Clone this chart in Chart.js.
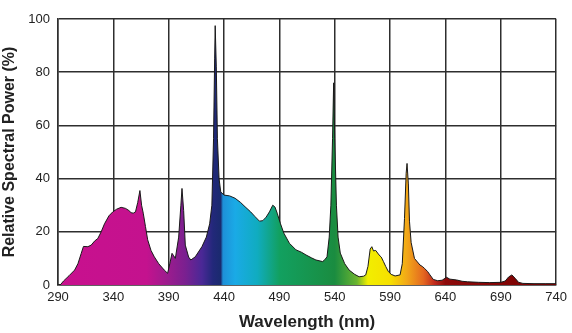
<!DOCTYPE html>
<html>
<head>
<meta charset="utf-8">
<script src="https://cdn.jsdelivr.net/npm/chart.js@4"></script>
<style>
  html, body { margin: 0; padding: 0; background: #fff; }
  #wrap { width: 572px; height: 333px; }
</style>
</head>
<body>
<div id="wrap"><canvas id="spdChart"></canvas></div>
<script>
// data
var wavelengths = [290, 292, 295, 300, 305, 308, 311, 313, 317, 320, 323, 326, 329, 332, 336, 339.5, 343, 347, 351, 354, 356, 358, 360, 362, 364, 365.5, 367, 369, 371, 374, 377, 381, 386, 389, 391, 393, 394.5, 396, 399, 401, 402, 403.5, 405, 408, 410, 414, 420, 424, 427, 429, 430.5, 431.5, 432, 433, 434, 435.5, 437, 440, 445, 450, 455, 459, 464, 468, 472, 475, 478, 481, 484, 486, 488, 491, 494, 499, 505, 510, 514, 519, 523, 529, 531, 533, 535, 536.5, 538, 539, 540, 541.5, 543, 545, 549, 553, 558, 562, 566, 568, 570, 572, 573.5, 575, 577, 580, 582, 584, 586, 588.5, 591, 594.5, 599, 601, 603, 604.5, 605.3, 606.5, 607.5, 609, 612, 614, 617, 619, 621, 624, 626, 629, 633, 637, 641, 644, 650, 655, 660, 670, 680, 690, 694, 697, 700, 703, 706, 710, 720, 730, 740];
var power = [0, 0, 1.5, 3.5, 5.6, 8, 11.9, 14.5, 14.4, 15, 16.5, 17.5, 20, 23, 26, 27.5, 28.5, 29.2, 28.8, 28, 27.2, 27, 27.5, 31, 35.5, 30, 27, 22, 17, 13, 10.6, 8, 5.6, 4.4, 8, 11.9, 11, 10, 18, 30, 36.3, 28, 15, 10.5, 9.4, 10.6, 14.4, 18, 23, 30, 55, 85, 97.5, 82, 55, 40, 35, 33.8, 33.5, 32.6, 31, 29.4, 27.5, 25.7, 24, 24.2, 25.5, 27.5, 30, 29.3, 27, 23, 19.5, 15.7, 13.2, 12.3, 11.3, 10.2, 9.4, 8.8, 9.5, 10.6, 18, 30, 55, 76, 55, 30, 18, 12, 8, 5.6, 4, 3.1, 3.3, 3.8, 7, 13.5, 14.4, 12.8, 13, 11.3, 10.5, 8.8, 7, 5, 4, 3.4, 3.8, 8, 25, 42, 45.7, 38, 24, 16, 10, 9, 7.5, 7, 6.3, 5, 3.8, 2.1, 1.6, 1.8, 2.9, 2.2, 1.9, 1.4, 1.2, 1, 0.9, 1, 1.5, 3, 3.8, 2.5, 1, 0.6, 0.5, 0.5, 0.5];
var xTicks = [290, 340, 390, 440, 490, 540, 590, 640, 690, 740];
var yTicks = [0, 20, 40, 60, 80, 100];

// spectrum colours along the x axis (wavelength, colour)
var spectrum = [
  [290, '#c8108e'], [370, '#c4128e'], [390, '#9a1c8e'], [405, '#7a2090'],
  [420, '#4a2896'], [430, '#22287a'], [437, '#1a2a6e'], [439, '#1e90d8'],
  [450, '#1aaae6'], [470, '#10acc0'], [490, '#12a060'], [540, '#1a8c40'],
  [560, '#6ab430'], [570, '#f2ee00'], [590, '#f6e000'], [605, '#f2a818'],
  [620, '#e46820'], [630, '#c02a1c'], [640, '#8c0a0a'], [740, '#7a0000']
];

var points = wavelengths.map(function (w, i) { return { x: w, y: power[i] }; });

function spectrumFill(ctx) {
  var chart = ctx.chart;
  if (!chart.chartArea) return '#c4128e';
  var xs = chart.scales.x;
  var x0 = xs.getPixelForValue(290), x1 = xs.getPixelForValue(740);
  var g = chart.ctx.createLinearGradient(x0, 0, x1, 0);
  spectrum.forEach(function (s) { g.addColorStop((s[0] - 290) / 450, s[1]); });
  return g;
}

var font = "'Liberation Sans Narrow', 'Liberation Sans', Arial, sans-serif";
var titleFont = "'Liberation Sans', Arial, sans-serif";
var gridColor = '#2e2e2e';

var spdChart = new Chart(document.getElementById('spdChart'), {
  type: 'line',
  data: {
    datasets: [{
      data: points,
      fill: 'origin',
      backgroundColor: spectrumFill,
      borderColor: '#1a1a1a',
      borderWidth: 1,
      pointRadius: 0,
      tension: 0
    }]
  },
  options: {
    responsive: true,
    maintainAspectRatio: false,
    animation: false,
    layout: { padding: { left: 0, right: 11, top: 19, bottom: 0 } },
    plugins: { legend: { display: false }, tooltip: { enabled: false } },
    scales: {
      x: {
        type: 'linear',
        min: 290, max: 740,
        afterBuildTicks: function (s) { s.ticks = xTicks.map(function (v) { return { value: v }; }); },
        afterFit: function (s) { s.height = 48; },
        grid: { color: gridColor, lineWidth: 1.5, drawTicks: false },
        border: { color: gridColor, width: 1.5 },
        ticks: { color: '#222', padding: 5, maxRotation: 0, autoSkip: false, font: { family: font, size: 13 } },
        title: { display: true, text: 'Wavelength (nm)', color: '#222', padding: { top: 0, bottom: 0 }, font: { family: titleFont, size: 17, weight: 'bold' } }
      },
      y: {
        min: 0, max: 100,
        afterBuildTicks: function (s) { s.ticks = yTicks.map(function (v) { return { value: v }; }); },
        afterFit: function (s) { s.width = 58; },
        grid: { color: gridColor, lineWidth: 1.5, drawTicks: false },
        border: { color: gridColor, width: 1.5 },
        ticks: { color: '#222', padding: 8, font: { family: font, size: 13 } },
        title: { display: true, text: 'Relative Spectral Power (%)', color: '#222', padding: { top: 0, bottom: 2 }, font: { family: titleFont, size: 16, weight: 'bold' } }
      }
    }
  }
});
</script>
</body>
</html>
